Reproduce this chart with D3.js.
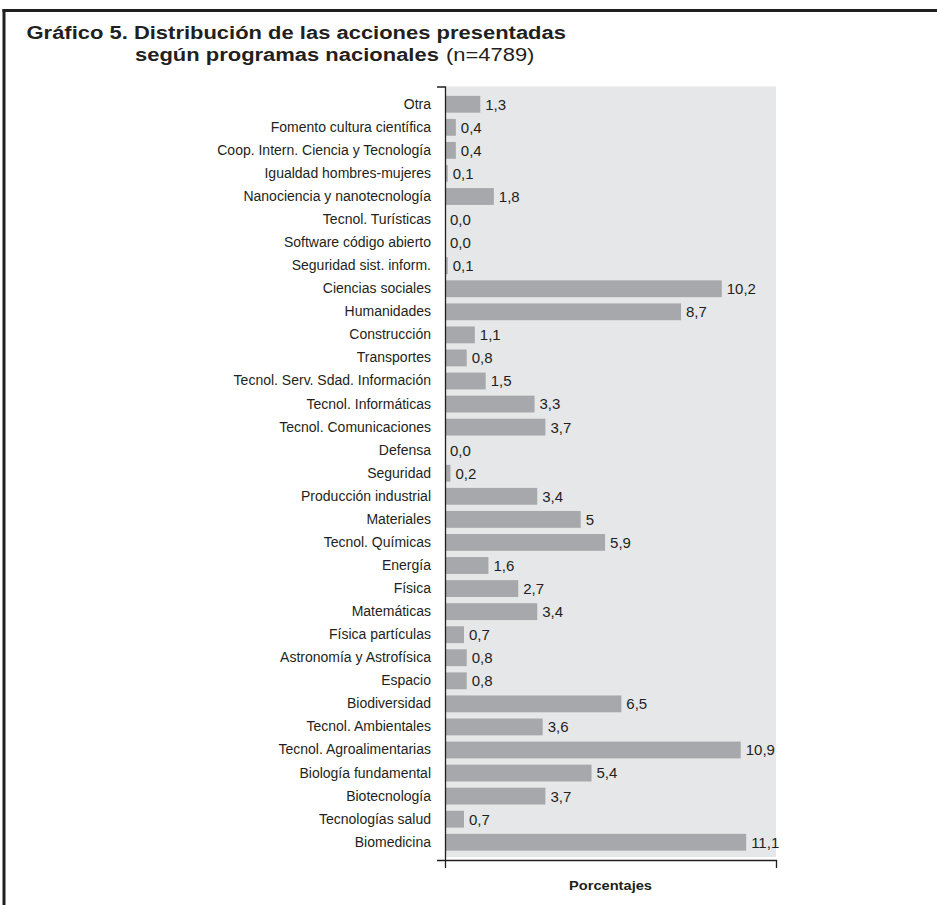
<!DOCTYPE html>
<html>
<head>
<meta charset="utf-8">
<script src="https://cdn.jsdelivr.net/npm/d3@7"></script>
<style>
  html, body { margin: 0; padding: 0; background: #ffffff; }
  svg { display: block; }
  text { font-family: "Liberation Sans", Arial, Helvetica, sans-serif; fill: #231f20; }
</style>
</head>
<body>
<svg id="chart" width="937" height="905"></svg>
<script>
const categories = [
  "Otra", "Fomento cultura científica", "Coop. Intern. Ciencia y Tecnología",
  "Igualdad hombres-mujeres", "Nanociencia y nanotecnología", "Tecnol. Turísticas",
  "Software código abierto", "Seguridad sist. inform.", "Ciencias sociales",
  "Humanidades", "Construcción", "Transportes", "Tecnol. Serv. Sdad. Información",
  "Tecnol. Informáticas", "Tecnol. Comunicaciones", "Defensa", "Seguridad",
  "Producción industrial", "Materiales", "Tecnol. Químicas", "Energía", "Física",
  "Matemáticas", "Física partículas", "Astronomía y Astrofísica", "Espacio",
  "Biodiversidad", "Tecnol. Ambientales", "Tecnol. Agroalimentarias",
  "Biología fundamental", "Biotecnología", "Tecnologías salud", "Biomedicina"
];
const values = [
  1.3, 0.4, 0.4, 0.1, 1.8, 0.0, 0.0, 0.1, 10.2, 8.7, 1.1, 0.8, 1.5, 3.3, 3.7,
  0.0, 0.2, 3.4, 5.0, 5.9, 1.6, 2.7, 3.4, 0.7, 0.8, 0.8, 6.5, 3.6, 10.9, 5.4,
  3.7, 0.7, 11.1
];
const valueLabels = [
  "1,3", "0,4", "0,4", "0,1", "1,8", "0,0", "0,0", "0,1", "10,2", "8,7", "1,1",
  "0,8", "1,5", "3,3", "3,7", "0,0", "0,2", "3,4", "5", "5,9", "1,6", "2,7",
  "3,4", "0,7", "0,8", "0,8", "6,5", "3,6", "10,9", "5,4", "3,7", "0,7", "11,1"
];
const xDomain = [0, 12.2];
const titleLine1 = "Gráfico 5. Distribución de las acciones presentadas";
const titleLine2Bold = "según programas nacionales";
const titleLine2Normal = "(n=4789)";
const xAxisTitle = "Porcentajes";

const data = categories.map((c, i) => ({ cat: c, v: values[i], lab: valueLabels[i] }));

const svg = d3.select("#chart");
const plot = { left: 445, right: 776, top: 86.5, bottom: 860 };
const STRETCH = 1.22;

function widen(sel) {
  const w = sel.node().getComputedTextLength();
  sel.attr("textLength", w * STRETCH).attr("lengthAdjust", "spacingAndGlyphs");
  return w * STRETCH;
}

// frame
svg.append("line").attr("x1", 2.5).attr("x2", 937).attr("y1", 10.5).attr("y2", 10.5)
  .attr("stroke", "#231f20").attr("stroke-width", 3);
svg.append("line").attr("x1", 4).attr("x2", 4).attr("y1", 9).attr("y2", 905)
  .attr("stroke", "#231f20").attr("stroke-width", 3);

// title
const t1 = svg.append("text").attr("x", 26.5).attr("y", 39.3)
  .attr("font-size", 18).attr("font-weight", "bold").text(titleLine1);
widen(t1);
const t2a = svg.append("text").attr("x", 135).attr("y", 60.7)
  .attr("font-size", 18).attr("font-weight", "bold").text(titleLine2Bold);
const w2a = widen(t2a);
const t2b = svg.append("text").attr("x", 135 + w2a + 7).attr("y", 60.7)
  .attr("font-size", 18).attr("font-weight", "normal").text(titleLine2Normal);
widen(t2b);

const x = d3.scaleLinear().domain(xDomain).range([plot.left, plot.right]);
const y = d3.scaleBand().domain(categories).range([plot.top, plot.bottom])
  .paddingInner(0.27).paddingOuter(0.405);

// background
svg.append("rect").attr("x", plot.left).attr("y", plot.top)
  .attr("width", plot.right - plot.left).attr("height", plot.bottom - 3 - plot.top)
  .attr("fill", "#e6e7e8");

// bars
svg.append("g").selectAll("rect").data(data).join("rect")
  .attr("x", x(0)).attr("y", d => y(d.cat))
  .attr("width", d => Math.max(0, x(d.v) - x(0)))
  .attr("height", y.bandwidth())
  .attr("fill", "#a7a8ab");

// value labels
svg.append("g").selectAll("text").data(data).join("text")
  .attr("x", d => x(d.v) + 5)
  .attr("y", d => y(d.cat) + y.bandwidth() / 2)
  .attr("dy", "0.36em")
  .attr("font-size", 15)
  .text(d => d.lab);

// y axis
const yAxis = d3.axisLeft(y).tickSize(0).tickSizeOuter(8).tickPadding(14);
const gy = svg.append("g").attr("transform", `translate(${plot.left},0)`).call(yAxis);
gy.select(".domain").attr("stroke", "#231f20").attr("stroke-width", 1.3);
gy.selectAll(".tick text").attr("font-size", 14).attr("fill", "#231f20")
  .attr("font-family", "Liberation Sans, Arial, sans-serif");

// x axis
const xAxis = d3.axisBottom(x).tickValues([]).tickSizeOuter(8);
const gx = svg.append("g").attr("transform", `translate(0,${plot.bottom})`).call(xAxis);
gx.select(".domain").attr("stroke", "#231f20").attr("stroke-width", 1.3);

const xt = svg.append("text").attr("x", (plot.left + plot.right) / 2).attr("y", 890)
  .attr("font-size", 12).attr("font-weight", "bold").text(xAxisTitle);
const wxt = widen(xt);
xt.attr("x", (plot.left + plot.right) / 2 - wxt / 2);
</script>
</body>
</html>
